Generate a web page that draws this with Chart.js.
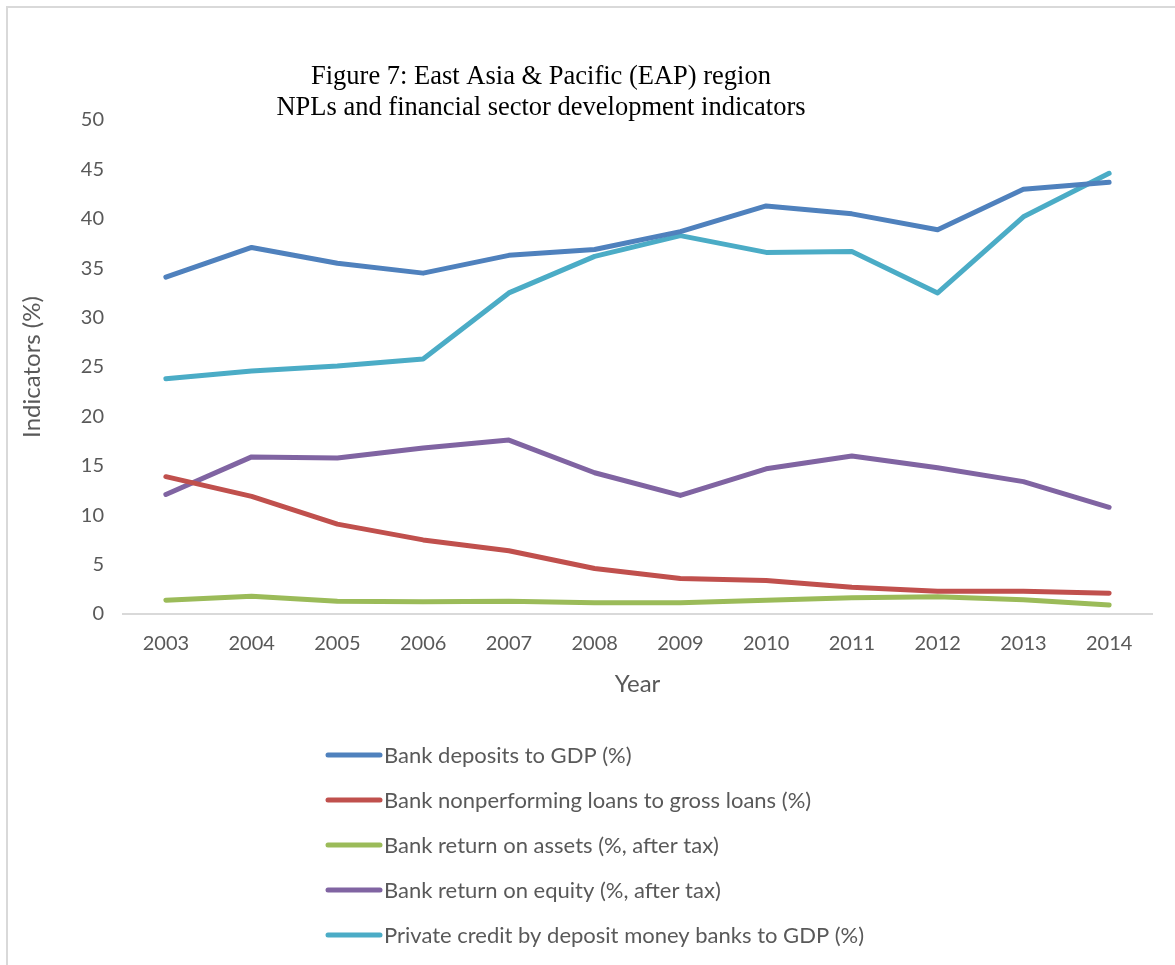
<!DOCTYPE html>
<html>
<head>
<meta charset="utf-8">
<title>Figure 7: EAP region</title>
<script src="https://cdn.jsdelivr.net/npm/chart.js@4.4.1/dist/chart.umd.min.js"></script>
<style>
  html, body { margin: 0; padding: 0; background: #fff; }
  #wrap { width: 1175px; height: 965px; position: relative; }
</style>
</head>
<body>
<div id="wrap"><canvas id="chart"></canvas></div>
<script>
// values
const years = ['2003', '2004', '2005', '2006', '2007', '2008', '2009', '2010', '2011', '2012', '2013', '2014'];
const depositsToGdp = [34.1, 37.1, 35.5, 34.5, 36.3, 36.9, 38.7, 41.3, 40.5, 38.9, 43.0, 43.7];
const nplToLoans = [13.9, 11.9, 9.1, 7.5, 6.4, 4.6, 3.6, 3.4, 2.7, 2.3, 2.3, 2.1];
const returnOnAssets = [1.4, 1.8, 1.3, 1.25, 1.3, 1.15, 1.15, 1.4, 1.65, 1.75, 1.45, 0.9];
const returnOnEquity = [12.1, 15.9, 15.8, 16.8, 17.6, 14.3, 12.0, 14.7, 16.0, 14.8, 13.4, 10.8];
const privateCredit = [23.8, 24.6, 25.1, 25.8, 32.5, 36.2, 38.3, 36.6, 36.7, 32.5, 40.2, 44.6];

const seriesNames = [
    'Bank deposits to GDP (%)',
    'Bank nonperforming loans to gross loans (%)',
    'Bank return on assets (%, after tax)',
    'Bank return on equity (%, after tax)',
    'Private credit by deposit money banks to GDP (%)'
];
const seriesColors = ['#4F81BD', '#C0504D', '#9BBB59', '#8064A2', '#4BACC6'];
const titleLines = ['Figure 7: East Asia & Pacific (EAP) region', 'NPLs and financial sector development indicators'];

const textGrey = '#595959';
const sansFont = 'Lato, "Open Sans", sans-serif';

const makeSet = (i, data) => ({
    label: seriesNames[i],
    data: data,
    borderColor: seriesColors[i],
    backgroundColor: seriesColors[i],
    borderWidth: 5,
    pointRadius: 0,
    tension: 0,
    borderCapStyle: 'round',
    borderJoinStyle: 'round'
});

// draws the frame, the serif title and the stacked legend
const decorations = {
    id: 'decorations',
    afterDraw(chart) {
        const ctx = chart.ctx;
        const area = chart.chartArea;
        ctx.save();

        ctx.strokeStyle = '#d9d9d9';
        ctx.lineWidth = 2;
        ctx.beginPath();
        ctx.moveTo(7, chart.height);
        ctx.lineTo(7, 7);
        ctx.lineTo(chart.width, 7);
        ctx.stroke();

        ctx.fillStyle = '#000';
        ctx.font = '26.5px "Liberation Serif", "Times New Roman", serif';
        ctx.textAlign = 'center';
        ctx.textBaseline = 'middle';
        titleLines.forEach((t, i) => ctx.fillText(t, 541, 77 + i * 31));

        ctx.font = '22px ' + sansFont;
        ctx.textAlign = 'left';
        chart.data.datasets.forEach((ds, i) => {
            const y = area.bottom + 141 + i * 45;
            ctx.strokeStyle = ds.borderColor;
            ctx.lineWidth = 5;
            ctx.lineCap = 'round';
            ctx.beginPath();
            ctx.moveTo(328, y);
            ctx.lineTo(380, y);
            ctx.stroke();
            ctx.fillStyle = textGrey;
            ctx.fillText(ds.label, 384, y + 1);
        });
        ctx.restore();
    }
};

new Chart(document.getElementById('chart'), {
    type: 'line',
    data: {
        labels: years,
        datasets: [
            makeSet(0, depositsToGdp),
            makeSet(1, nplToLoans),
            makeSet(2, returnOnAssets),
            makeSet(3, returnOnEquity),
            makeSet(4, privateCredit)
        ]
    },
    options: {
        responsive: true,
        maintainAspectRatio: false,
        animation: false,
        layout: { padding: { left: 8, right: 23, top: 120, bottom: 261 } },
        plugins: {
            legend: { display: false },
            title: { display: false },
            tooltip: { enabled: false }
        },
        scales: {
            x: {
                offset: true,
                grid: { display: false, drawTicks: false },
                border: { display: true, color: '#d9d9d9', width: 2 },
                ticks: { color: textGrey, font: { family: sansFont, size: 20 }, padding: 18, maxRotation: 0 },
                title: { display: true, text: 'Year', color: textGrey, font: { family: sansFont, size: 24 }, padding: { top: 4, bottom: 5 } },
                afterFit: s => { s.height = 90; }
            },
            y: {
                min: 0,
                max: 50,
                grid: { display: false, drawTicks: false },
                border: { display: false },
                ticks: { stepSize: 5, color: textGrey, font: { family: sansFont, size: 20 }, padding: 19 },
                title: { display: true, text: 'Indicators (%)', color: textGrey, font: { family: sansFont, size: 24 }, padding: { top: 10, bottom: 4 } },
                afterFit: s => { s.width = 115; }
            }
        }
    },
    plugins: [decorations]
});
</script>
</body>
</html>
